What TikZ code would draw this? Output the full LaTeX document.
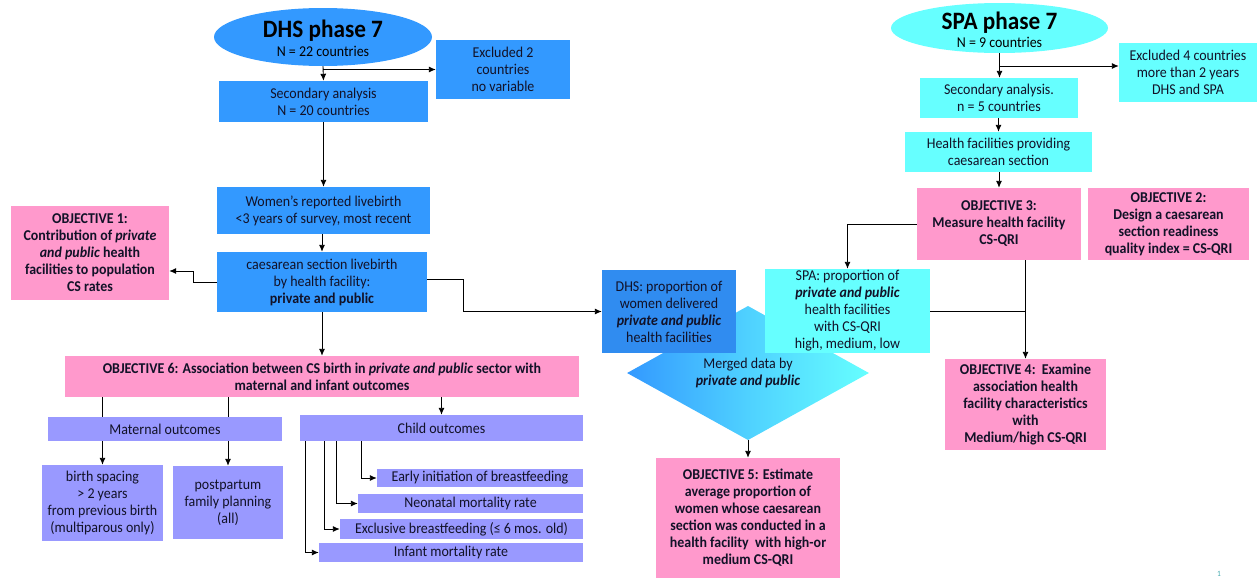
\documentclass[tikz,border=0pt]{standalone}
\usepackage{fontspec}
\setmainfont[FakeStretch=0.93]{Carlito}
\usetikzlibrary{shapes.geometric,arrows.meta,calc}
\definecolor{dhsblue}{RGB}{51,153,255}
\definecolor{dhsdark}{RGB}{48,140,240}
\definecolor{cyanbox}{RGB}{102,255,255}
\definecolor{pinkbox}{RGB}{255,153,204}
\definecolor{lavbox}{RGB}{153,153,255}
\definecolor{textcol}{RGB}{18,18,40}
\definecolor{pagenum}{RGB}{70,170,175}
\newcommand\mybox[7]{\node[#2, minimum width={#5-#3}, minimum height={#6-#4}] (#1) at ({(#3+#5)/2},{(#4+#6)/2}) {#7};}
\tikzset{
  base/.style={rectangle, draw=none, inner sep=0pt, align=center, text=textcol,
    font=\fontsize{15}{17}\selectfont},
  bluebox/.style={base, fill=dhsblue},
  darkbox/.style={base, fill=dhsdark},
  cybox/.style={base, fill=cyanbox},
  objbox/.style={base, fill=pinkbox, font=\fontsize{15}{17}\selectfont\bfseries},
  lavb/.style={base, fill=lavbox},
  conn/.style={line width=0.9pt, draw=black},
  arr/.style={conn, -{Latex[length=7pt,width=6pt]}},
  title/.style={inner sep=0pt, align=center, text=black},
}
\begin{document}
\begin{tikzpicture}[x=1pt,y=-1pt]
\useasboundingbox (0,0) rectangle (1259,579);
% ---------- DHS column ----------
\node[ellipse, fill=dhsblue, inner sep=0pt, minimum width=218pt, minimum height=58pt] (dhs) at (323,37) {};
\node[title] (dhst) at (323,38) {{\fontsize{25}{25}\selectfont\bfseries DHS phase 7}\\[4pt]{\fontsize{15}{17}\selectfont N = 22 countries}};
\mybox{exc}{bluebox}{436}{40}{570}{99}{Excluded 2\\countries\\no variable}
\mybox{sec1}{bluebox}{219}{81}{428}{122}{Secondary analysis\\N = 20 countries}
\mybox{women}{bluebox}{217}{187}{430}{234}{Women's reported livebirth\\<3 years of survey, most recent}
\mybox{cs}{bluebox}{217}{252}{427}{312}{caesarean section livebirth\\by health facility:\\\textbf{private and public}}
\mybox{obj1}{objbox}{11}{206}{169}{300}{OBJECTIVE 1:\\Contribution of \textit{private}\\\textit{and public} health\\facilities to population\\CS rates}
\mybox{obj6}{objbox}{65}{356}{579}{397}{OBJECTIVE 6: Association between CS birth in \textit{private and public} sector with\\maternal and infant outcomes}
\mybox{mat}{lavb}{48}{417}{282}{441}{Maternal outcomes}
\mybox{child}{lavb}{300}{415}{583}{441}{Child outcomes}
\mybox{bs}{lavb}{42}{465}{163}{541}{birth spacing\\> 2 years\\from previous birth\\(multiparous only)}
\mybox{pp}{lavb}{173}{466}{283}{539}{postpartum\\family planning\\(all)}
\mybox{early}{lavb}{377}{469}{583}{487}{Early initiation of breastfeeding}
\mybox{neo}{lavb}{358}{494}{583}{513}{Neonatal mortality rate}
\mybox{excl}{lavb}{340}{519}{583}{539}{Exclusive breastfeeding (≤ 6 mos. old)}
\mybox{inf}{lavb}{319}{543}{583}{562}{Infant mortality rate}
% ---------- SPA column ----------
\node[ellipse, fill=cyanbox, inner sep=0pt, minimum width=217pt, minimum height=50pt] (spa) at (999.5,28) {};
\node[title] (spat) at (999.5,30) {{\fontsize{25}{25}\selectfont\bfseries SPA phase 7}\\[3pt]{\fontsize{15}{17}\selectfont N = 9 countries}};
\mybox{exc4}{cybox}{1119}{43}{1257}{102}{Excluded 4 countries\\more than 2 years\\DHS and SPA}
\mybox{sec2}{cybox}{920}{78}{1078}{118}{Secondary analysis.\\n = 5 countries}
\mybox{hf}{cybox}{905}{132}{1092}{172}{Health facilities providing\\caesarean section}
\mybox{obj3}{objbox}{917}{188}{1081}{260}{OBJECTIVE 3:\\Measure health facility\\CS-QRI}
\mybox{obj2}{objbox}{1088}{188}{1249}{260}{OBJECTIVE 2:\\Design a caesarean\\section readiness\\quality index = CS-QRI}
% merged diamond (drawn before the boxes that overlap it)
\node[diamond, inner sep=0pt, minimum width=242pt, minimum height=72pt, left color=dhsblue, right color=cyanbox, middle color=dhsblue!45!cyanbox, align=center, text=textcol, font=\fontsize{15}{17}\selectfont] (dia) at (748,373) {Merged data by\\\textbf{\textit{private and public}}};
\mybox{dhsp}{darkbox}{602}{270}{736}{353}{DHS: proportion of\\women delivered\\\textbf{\textit{private and public}}\\health facilities}
\mybox{spap}{cybox}{765}{269}{930}{353}{SPA: proportion of\\\textbf{\textit{private and public}}\\health facilities\\with CS-QRI\\high, medium, low}
\mybox{obj4}{objbox}{945}{359}{1106}{450}{OBJECTIVE 4:\ \ Examine\\association health\\facility characteristics\\with\\Medium/high CS-QRI}
\mybox{obj5}{objbox}{656}{458}{840}{578}{OBJECTIVE 5: Estimate\\average proportion of\\women whose caesarean\\section was conducted in a\\health facility\ \ with high-or\\medium CS-QRI}
\node[inner sep=0pt, text=pagenum, font=\fontsize{8}{8}\selectfont] (pg) at (1219,574) {1};
% ---------- connectors: DHS ----------
\draw[arr] (dhs.south) -- (sec1.north);
\draw[arr] (dhs.south |- exc.west) -- (exc.west);
\draw[arr] (sec1.south) -- (women.north -| sec1.south);
\draw[arr] (women.south -| cs.north) -- (cs.north);
\draw[arr] (cs.west) -- ++(-23,0) |- ([yshift=-18pt]obj1.east);
\draw[arr] ([yshift=3pt]cs.east) -- ++(36,0) |- (dhsp.west);
\draw[arr] (cs.south) -- (cs.south |- obj6.north);
\draw[conn] (obj6.south -| bs.north) -- (mat.north -| bs.north);
\draw[conn] (obj6.south -| pp.north) -- (mat.north -| pp.north);
\draw[arr] (mat.south -| bs.north) -- (bs.north);
\draw[arr] (mat.south -| pp.north) -- (pp.north);
\draw[arr] (obj6.south -| child.north) -- (child.north);
\draw[arr] ([xshift=62pt]child.south west) |- (early.west);
\draw[arr] ([xshift=37pt]child.south west) |- (neo.west);
\draw[arr] ([xshift=25pt]child.south west) |- (excl.west);
\draw[arr] ([xshift=6pt]child.south west) |- (inf.west);
% ---------- connectors: SPA ----------
\coordinate (exc4in) at ([yshift=6.5pt]exc4.west);
\draw[arr] (spa.south) -- (sec2.north -| spa.south);
\draw[arr] (spa.south |- exc4in) -- (exc4in);
\draw[arr] (sec2.south -| hf.north) -- (hf.north);
\draw[arr] (hf.south -| obj3.north) -- (obj3.north);
\draw[arr] (obj3.west) -| (spap.north);
\draw[arr] (obj3.south -| obj4.north) -- (obj4.north);
\draw[conn] (spap.east) -- (spap.east -| obj4.north);
\draw[arr] (dia.south) -- (obj5.north);
\end{tikzpicture}
\end{document}
